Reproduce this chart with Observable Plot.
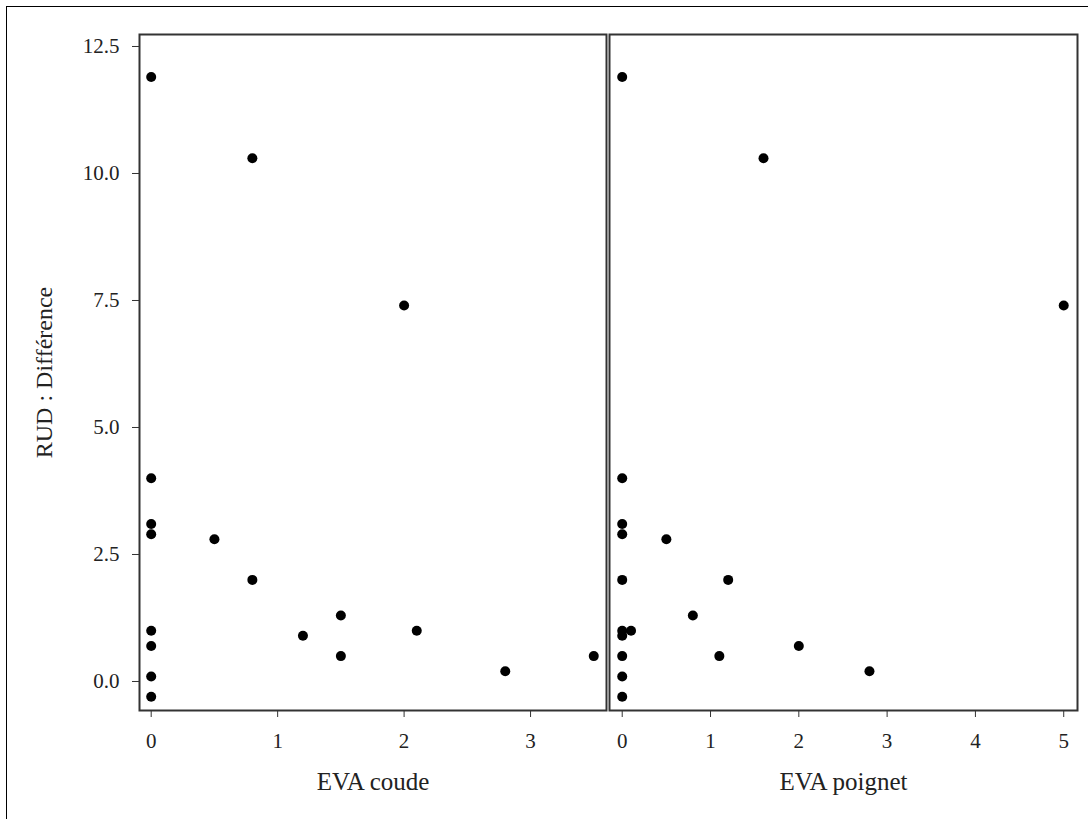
<!DOCTYPE html>
<html>
<head>
<meta charset="utf-8">
<script src="https://cdn.jsdelivr.net/npm/d3@7"></script>
<script src="https://cdn.jsdelivr.net/npm/@observablehq/plot@0.6"></script>
<style>
  html, body { margin: 0; padding: 0; background: #fff; overflow: hidden; }
  #wrap { position: relative; width: 1088px; height: 819px; }
  #wrap svg, #wrap svg text { font-family: "Liberation Serif", "DejaVu Serif", serif !important; }
  #border { position: absolute; left: 6px; top: 6px; width: 1200px; height: 900px; border-left: 1px solid #000; border-top: 1px solid #000; }
  #left, #right { position: absolute; top: 0; }
  #left { left: 0; }
  #right { left: 600px; }
</style>
</head>
<body>
<div id="wrap">
  <div id="border"></div>
  <div id="left"></div>
  <div id="right"></div>
</div>
<script>
// EVA coude panel
const coudeX = [0, 0.8, 2.0, 0, 0, 0, 0.5, 0.8, 1.2, 1.5, 1.5, 2.1, 2.8, 3.5, 0, 0, 0, 0];
const coudeY = [11.9, 10.3, 7.4, 4.0, 3.1, 2.9, 2.8, 2.0, 0.9, 1.3, 0.5, 1.0, 0.2, 0.5, 1.0, 0.7, 0.1, -0.3];
// EVA poignet panel
const poignetX = [0, 1.6, 5.0, 0, 0, 0, 0.5, 0, 1.2, 0.8, 0, 0, 0.1, 0, 1.1, 2.0, 2.8, 0, 0];
const poignetY = [11.9, 10.3, 7.4, 4.0, 3.1, 2.9, 2.8, 2.0, 2.0, 1.3, 1.0, 0.9, 1.0, 0.5, 0.5, 0.7, 0.2, 0.1, -0.3];

const yTicks = [0, 2.5, 5.0, 7.5, 10.0, 12.5];
const coudeTicks = [0, 1, 2, 3];
const poignetTicks = [0, 1, 2, 3, 4, 5];
const yLabel = "RUD : Différence";
const coudeLabel = "EVA coude";
const poignetLabel = "EVA poignet";

const yDomain = [-0.571, 12.736];

const rows = (xs, ys) => xs.map((x, i) => ({x, y: ys[i]}));

const left = Plot.plot({
  width: 608, height: 819,
  marginLeft: 139, marginRight: 2, marginTop: 34, marginBottom: 109,
  style: {background: "transparent", color: "#000"},
  x: {domain: [-0.0925, 3.6006]},
  y: {domain: yDomain},
  marks: [
    Plot.frame({stroke: "#333", strokeWidth: 2}),
    Plot.axisY({ticks: yTicks, tickFormat: d3.format(".1f"), tickSize: 7, tickPadding: 13, fontSize: 21, label: null, stroke: "#333", fill: "#222"}),
    Plot.axisX({ticks: coudeTicks, tickFormat: d3.format("d"), tickSize: 7, tickPadding: 16, fontSize: 21, label: null, stroke: "#333", fill: "#222"}),
    Plot.dot(rows(coudeX, coudeY), {x: "x", y: "y", r: 5, fill: "#000", stroke: null}),
    Plot.text([coudeLabel], {frameAnchor: "bottom", dy: 79, fontSize: 25, fill: "#222", textAnchor: "middle"}),
    Plot.text([yLabel], {frameAnchor: "left", dx: -95, rotate: -90, fontSize: 24, fill: "#222", textAnchor: "middle"})
  ]
});
document.getElementById("left").append(left);

const right = Plot.plot({
  width: 488, height: 819,
  marginLeft: 9, marginRight: 11, marginTop: 34, marginBottom: 109,
  style: {background: "transparent", color: "#000"},
  x: {domain: [-0.144, 5.156]},
  y: {domain: yDomain, axis: null},
  marks: [
    Plot.frame({stroke: "#333", strokeWidth: 2}),
    Plot.axisX({ticks: poignetTicks, tickFormat: d3.format("d"), tickSize: 7, tickPadding: 16, fontSize: 21, label: null, stroke: "#333", fill: "#222"}),
    Plot.dot(rows(poignetX, poignetY), {x: "x", y: "y", r: 5, fill: "#000", stroke: null}),
    Plot.text([poignetLabel], {frameAnchor: "bottom", dy: 79, fontSize: 25, fill: "#222", textAnchor: "middle"})
  ]
});
document.getElementById("right").append(right);
</script>
</body>
</html>
